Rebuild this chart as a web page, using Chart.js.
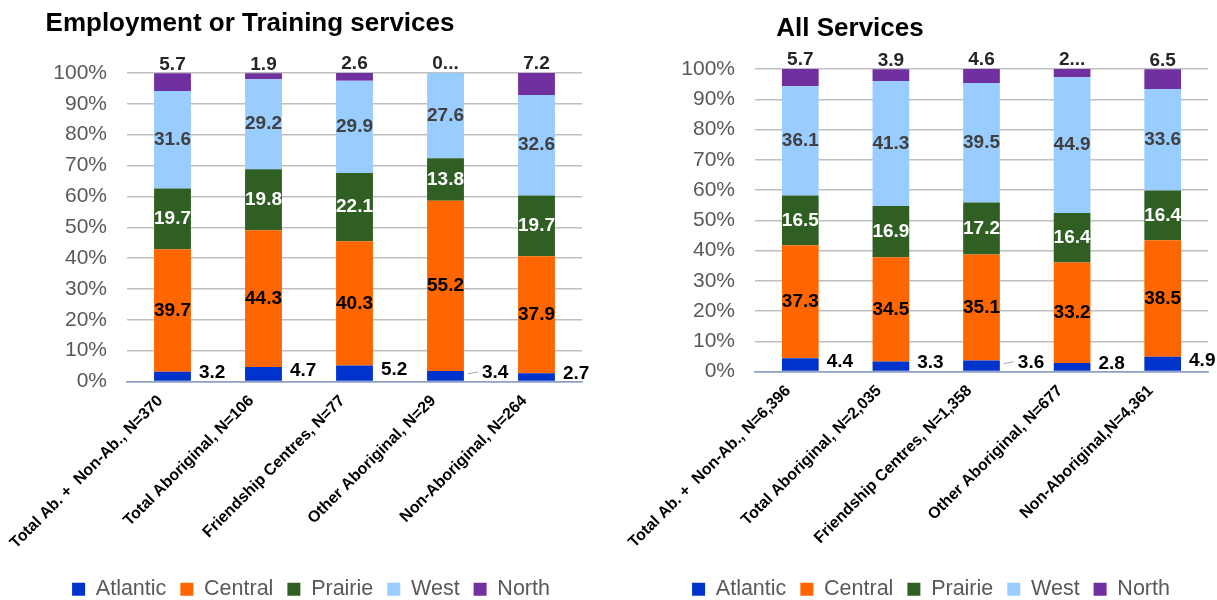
<!DOCTYPE html>
<html>
<head>
<meta charset="utf-8">
<title>Regional distribution of services</title>
<script src="https://cdn.jsdelivr.net/npm/chart.js@4.4.1/dist/chart.umd.min.js"></script>
<style>
  html, body { margin: 0; padding: 0; background: #fff; overflow: hidden; }
  canvas { position: absolute; top: 0; }
</style>
</head>
<body>
<canvas id="etChart" width="610" height="621" style="left:0"></canvas>
<canvas id="allChart" width="607" height="621" style="left:610px"></canvas>
<script>
// regions, in stacking order (bottom to top)
const regions = ['Atlantic', 'Central', 'Prairie', 'West', 'North']
const regionColors = ['#0033CC', '#FF6600', '#2F5F23', '#99CCFF', '#7030A0']

const yTicks = [0, 10, 20, 30, 40, 50, 60, 70, 80, 90, 100]

// Employment or Training services (%)
const etGroups = ['Total Ab. +  Non-Ab., N=370', 'Total Aboriginal, N=106', 'Friendship Centres, N=77', 'Other Aboriginal, N=29', 'Non-Aboriginal, N=264']
const etAtlantic = [3.2, 4.7, 5.2, 3.4, 2.7]
const etCentral = [39.7, 44.3, 40.3, 55.2, 37.9]
const etPrairie = [19.7, 19.8, 22.1, 13.8, 19.7]
const etWest = [31.6, 29.2, 29.9, 27.6, 32.6]
const etNorth = [5.7, 1.9, 2.6, 0, 7.2]

// All Services (%)
const allGroups = ['Total Ab. +  Non-Ab., N=6,396', 'Total Aboriginal, N=2,035', 'Friendship Centres, N=1,358', 'Other Aboriginal, N=677', 'Non-Aboriginal,N=4,361']
const allAtlantic = [4.4, 3.3, 3.6, 2.8, 4.9]
const allCentral = [37.3, 34.5, 35.1, 33.2, 38.5]
const allPrairie = [16.5, 16.9, 17.2, 16.4, 16.4]
const allWest = [36.1, 41.3, 39.5, 44.9, 33.6]
const allNorth = [5.7, 3.9, 4.6, 2.7, 6.5]

Chart.defaults.font.family = '"Liberation Sans", Arial, sans-serif'

// where each region's value label goes, and its colour
const labelPos = ['right', 'center', 'center', 'center', 'top']
const labelColor = ['#000000', '#000000', '#FFFFFF', '#404040', '#262626']

/* moves the title and legend sideways after layout */
const shiftBoxes = {
  id: 'shiftBoxes',
  afterLayout(chart, args, opts) {
    const t = chart.titleBlock, l = chart.legend
    if (t && opts.title) { t.left += opts.title; t.right += opts.title }
    if (l && opts.legend) { l.left += opts.legend; l.right += opts.legend }
  }
}

/* value labels on each segment */
const segmentLabels = {
  id: 'segmentLabels',
  afterDatasetsDraw(chart, args, opts) {
    const ctx = chart.ctx
    ctx.save()
    ctx.font = 'bold 19px "Liberation Sans", Arial, sans-serif'
    ctx.textBaseline = 'middle'
    chart.data.datasets.forEach((ds, i) => {
      const meta = chart.getDatasetMeta(i)
      meta.data.forEach((bar, j) => {
        const v = ds.data[j]
        let text = v.toFixed(1)
        // labels too wide for the slot get cut short
        if (labelPos[i] === 'top' && opts.clipped.includes(j)) text = Math.floor(v) + '...'
        ctx.fillStyle = labelColor[i]
        const mid = (bar.y + bar.base) / 2
        if (labelPos[i] === 'right') {
          let x = bar.x + bar.width / 2 + 8
          if (opts.leader.includes(j)) {
            ctx.strokeStyle = '#A6A6A6'
            ctx.lineWidth = 1
            ctx.beginPath()
            ctx.moveTo(x - 4, mid - 2)
            ctx.lineTo(x + 6, mid - 4)
            ctx.stroke()
            x += 10
          }
          ctx.textAlign = 'left'
          ctx.fillText(text, x, mid - 3)
        } else if (labelPos[i] === 'top') {
          ctx.textAlign = 'center'
          ctx.fillText(text, bar.x, bar.y - 9)
        } else {
          ctx.textAlign = 'center'
          ctx.fillText(text, bar.x, mid)
        }
      })
    })
    ctx.restore()
  }
}

function buildChart(id, title, groups, series, conf) {
  return new Chart(document.getElementById(id), {
    type: 'bar',
    data: {
      labels: groups,
      datasets: regions.map((name, i) => ({
        label: name,
        data: series[i],
        backgroundColor: regionColors[i],
        borderWidth: 0
      }))
    },
    options: {
      responsive: false,
      animation: false,
      layout: { padding: { left: 0, right: conf.padRight, top: 0, bottom: 11 } },
      datasets: { bar: { categoryPercentage: 1, barPercentage: 0.405 } },
      scales: {
        x: {
          stacked: true,
          grid: { display: false },
          border: { display: true, color: '#8EA0C8', width: 1.5 },
          ticks: {
            autoSkip: false, maxRotation: 45, minRotation: 45, padding: 2,
            labelOffset: conf.labelOffset,
            color: '#000', font: { size: 16, weight: 'bold' }
          },
          afterFit: s => { s.height = conf.xHeight }
        },
        y: {
          stacked: true, min: yTicks[0], max: yTicks[yTicks.length - 1],
          border: { display: false },
          grid: { drawTicks: false, lineWidth: 1.5, color: c => c.tick.value === 0 ? '#8EA0C8' : '#BFBFBF' },
          afterBuildTicks: s => { s.ticks = yTicks.map(v => ({ value: v })) },
          ticks: { padding: 20, color: '#595959', font: { size: 21 }, callback: v => v + '%' },
          afterFit: s => { s.width = conf.yWidth }
        }
      },
      plugins: {
        title: {
          display: true, text: title, color: '#000',
          font: { size: 26, weight: 'bold' },
          padding: { top: conf.titleTop, bottom: conf.titleBottom }
        },
        legend: {
          position: 'bottom',
          labels: { boxWidth: 13, boxHeight: 13, padding: 14, color: '#595959', font: { size: 21.5 } }
        },
        tooltip: { enabled: false },
        shiftBoxes: { title: conf.titleShift, legend: conf.legendShift },
        segmentLabels: { clipped: conf.clipped, leader: conf.leader }
      }
    },
    plugins: [shiftBoxes, segmentLabels]
  })
}

buildChart('etChart', 'Employment or Training services', etGroups,
  [etAtlantic, etCentral, etPrairie, etWest, etNorth],
  { padRight: 28, yWidth: 127, xHeight: 183, titleTop: 8.7, titleBottom: 33.1,
    titleShift: -41, legendShift: 20, labelOffset: -12, clipped: [3], leader: [3] })

buildChart('allChart', 'All Services', allGroups,
  [allAtlantic, allCentral, allPrairie, allWest, allNorth],
  { padRight: 9, yWidth: 145, xHeight: 193, titleTop: 13.4, titleBottom: 24.4,
    titleShift: -59, legendShift: 22, labelOffset: -12, clipped: [3], leader: [2] })
</script>
</body>
</html>
